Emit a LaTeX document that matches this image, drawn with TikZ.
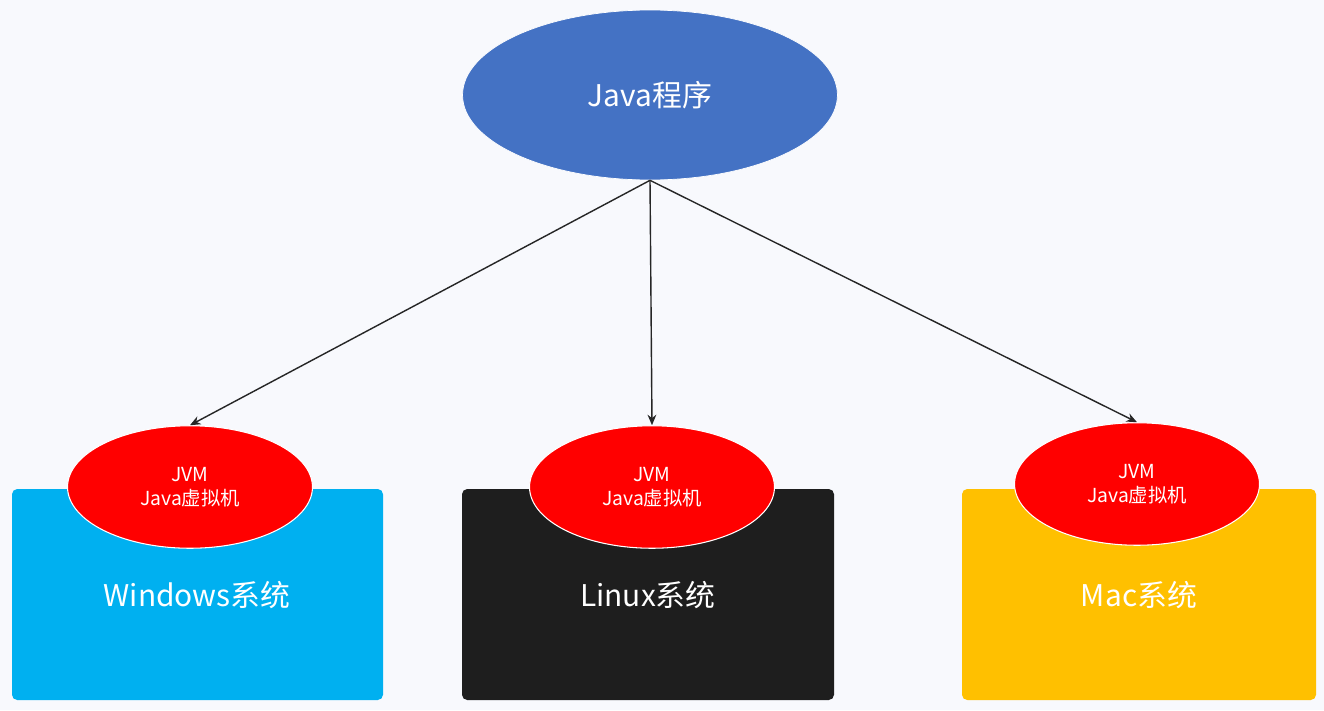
\documentclass[tikz,border=0pt]{standalone}
\usepackage{fontspec}
\setmainfont{Noto Sans CJK SC}
\usetikzlibrary{shapes.geometric,arrows.meta}
\definecolor{bgcol}{HTML}{F8F9FD}
\definecolor{topblue}{HTML}{4472C4}
\definecolor{winblue}{HTML}{00B0F0}
\definecolor{linblack}{HTML}{1E1E1E}
\definecolor{macgold}{HTML}{FFC000}
\tikzset{
  osbox/.style={draw=none,rounded corners=3pt,text=white,font=\fontsize{17}{20}\selectfont},
  jvm/.style={ellipse,fill=red,draw=white,line width=0.6pt,minimum width=4.9cm,minimum height=2.45cm,
    text=white,align=center,font=\fontsize{11}{14}\selectfont},
  link/.style={-{Stealth[length=6pt,width=5pt]},thick,black!85}
}
\begin{document}
\begin{tikzpicture}[x=0.02cm,y=-0.02cm]
\fill[bgcol] (0,0) rectangle (1324,710);
\useasboundingbox (0,0) rectangle (1324,710);
% operating systems
\fill[winblue,rounded corners=3pt] (12,489) rectangle (383,700);
\fill[linblack,rounded corners=3pt] (462,489) rectangle (834,700);
\fill[macgold,rounded corners=3pt] (962,489) rectangle (1316,700);
\node[osbox] (win) at (197,595) {Windows系统};
\node[osbox] (lin) at (648,595) {Linux系统};
\node[osbox] (mac) at (1139,595) {Mac系统};
% program
\node[ellipse,fill=topblue,draw=white,minimum width=7.5cm,minimum height=3.4cm,text=white,
  font=\fontsize{17}{20}\selectfont] (prog) at (650,95) {Java程序};
% virtual machines
\node[jvm] (jvmwin) at (190,487) {JVM\\Java虚拟机};
\node[jvm] (jvmlin) at (652,487) {JVM\\Java虚拟机};
\node[jvm] (jvmmac) at (1137,484) {JVM\\Java虚拟机};
\draw[link] (prog.south) -- (jvmwin.north);
\draw[link] (prog.south) -- (jvmlin.north);
\draw[link] (prog.south) -- (jvmmac.north);
\end{tikzpicture}
\end{document}
